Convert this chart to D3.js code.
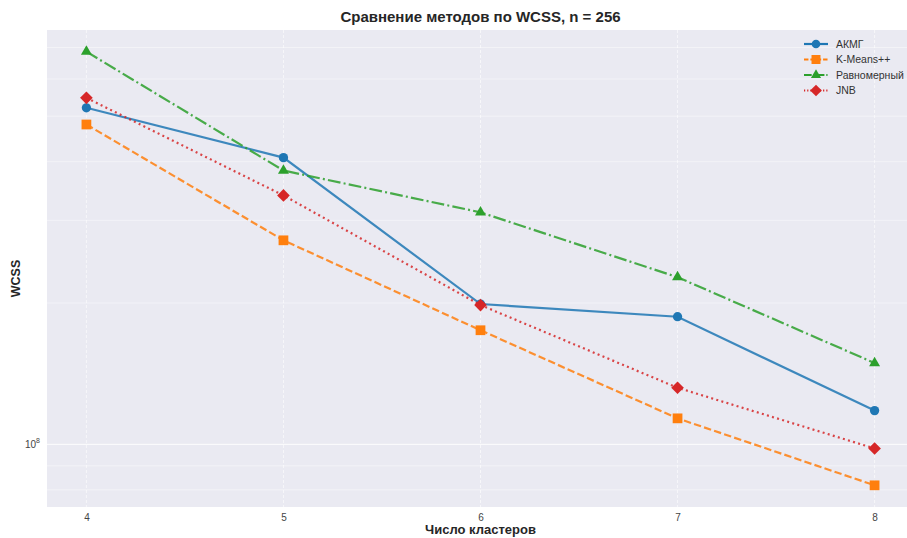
<!DOCTYPE html>
<html>
<head>
<meta charset="utf-8">
<script src="https://cdn.jsdelivr.net/npm/d3@7"></script>
<style>
	body { margin: 0; background: #fff; }
	svg { display: block; font-family: 'Liberation Sans', Arial, sans-serif; }
</style>
</head>
<body>
<svg class="chart" width="907" height="538"></svg>
<script>
/** DATA **/
let clusters = [4, 5, 6, 7, 8];
let akmg = [5.21e8, 4.08e8, 1.99e8, 1.87e8, 1.18e8];
let kmeans = [4.80e8, 2.72e8, 1.75e8, 1.136e8, 8.18e7];
let uniform = [6.86e8, 3.83e8, 3.12e8, 2.27e8, 1.49e8];
let jnb = [5.47e8, 3.39e8, 1.98e8, 1.32e8, 0.98e8];
let seriesNames = ['АКМГ', 'K-Means++', 'Равномерный', 'JNB'];

/** CONSTANTS **/
let margin = { top: 30, right: -7, bottom: 31, left: 47 };
let width = 907 - margin.left - margin.right;
let height = 538 - margin.top - margin.bottom;

// diamond = square turned 45 degrees (matplotlib 'D')
let symbolDiamondSquare = {
	draw: function(context, size) {
		let r = Math.sqrt(size) / Math.SQRT2;
		context.moveTo(0, -r);
		context.lineTo(r, 0);
		context.lineTo(0, r);
		context.lineTo(-r, 0);
		context.closePath();
	}
};

let series = [
	{ name: seriesNames[0], values: akmg, color: '#1f77b4', dash: null, marker: d3.symbolCircle, size: 68 },
	{ name: seriesNames[1], values: kmeans, color: '#ff7f0e', dash: '7.4,3.2', marker: d3.symbolSquare, size: 95 },
	{ name: seriesNames[2], values: uniform, color: '#2ca02c', dash: '12.8,3.2,2,3.2', marker: d3.symbolTriangle, size: 52 },
	{ name: seriesNames[3], values: jnb, color: '#d62728', dash: '2,3.3', marker: symbolDiamondSquare, size: 80 }
];

// log domain with 5% padding like matplotlib
let all = [].concat(akmg, kmeans, uniform, jnb);
let lo = Math.log10(d3.min(all)), hi = Math.log10(d3.max(all));
let pad = (hi - lo) * 0.05;

let x = d3.scaleLinear().domain([3.8, 8.2]).range([0, width]);
let y = d3.scaleLog().domain([Math.pow(10, lo - pad), Math.pow(10, hi + pad)]).range([height, 0]);

let svg = d3.select('.chart');
let g = svg.append('g').attr('transform', 'translate(' + margin.left + ',' + margin.top + ')');

// background
g.append('rect')
	.attr('width', width)
	.attr('height', height)
	.attr('fill', '#eaeaf2');

// minor + major horizontal grid
let yTicks = [];
for (let e = 7; e <= 8; e++) {
	for (let m = 1; m <= 9; m++) {
		let v = m * Math.pow(10, e);
		if (v >= y.domain()[0] && v <= y.domain()[1]) yTicks.push(v);
	}
}
g.selectAll('.hgrid')
	.data(yTicks)
	.enter()
	.append('line')
	.attr('x1', 0)
	.attr('x2', width)
	.attr('y1', d => y(d))
	.attr('y2', d => y(d))
	.attr('stroke', '#fff')
	.attr('stroke-opacity', d => d === 1e8 ? 0.9 : 0.55)
	.attr('stroke-width', d => d === 1e8 ? 1 : 0.8);

g.selectAll('.vgrid')
	.data(clusters)
	.enter()
	.append('line')
	.attr('x1', d => x(d))
	.attr('x2', d => x(d))
	.attr('y1', 0)
	.attr('y2', height)
	.attr('stroke', '#fff')
	.attr('stroke-opacity', 0.6)
	.attr('stroke-dasharray', '3,2');

// x axis
let xAxis = g.append('g')
	.attr('transform', 'translate(0,' + height + ')')
	.call(d3.axisBottom(x).tickValues(clusters).tickSize(0).tickPadding(7).tickFormat(d3.format('d')));
xAxis.select('.domain').remove();
xAxis.selectAll('text').attr('fill', '#444').style('font-size', '10px');

// y axis: only 10^8 labelled
let yl = g.append('text')
	.attr('x', -7)
	.attr('y', y(1e8) + 4)
	.attr('text-anchor', 'end')
	.attr('fill', '#444')
	.style('font-size', '10px');
yl.append('tspan').text('10');
yl.append('tspan').attr('dy', -5).style('font-size', '7px').text('8');

// lines
let line = d3.line()
	.x((d, i) => x(clusters[i]))
	.y(d => y(d));

series.forEach(function(s) {
	g.append('path')
		.datum(s.values)
		.attr('fill', 'none')
		.attr('stroke', s.color)
		.attr('stroke-width', 2.2)
		.attr('stroke-opacity', 0.85)
		.attr('stroke-dasharray', s.dash)
		.attr('d', line);
	g.selectAll(null)
		.data(s.values)
		.enter()
		.append('path')
		.attr('transform', (d, i) => 'translate(' + x(clusters[i]) + ',' + y(d) + ')')
		.attr('d', d3.symbol().type(s.marker).size(s.size))
		.attr('fill', s.color);
});

// legend
let legend = g.append('g')
	.attr('transform', 'translate(' + (width - 110) + ',14)');
let item = legend.selectAll('g')
	.data(series)
	.enter()
	.append('g')
	.attr('transform', (d, i) => 'translate(0,' + (i * 15.5) + ')');
item.append('line')
	.attr('x1', 0)
	.attr('x2', 24)
	.attr('stroke', d => d.color)
	.attr('stroke-width', 2.2)
	.attr('stroke-dasharray', d => d.dash ? d.dash.split(',').map(v => v * 0.6).join(',') : null);
item.append('path')
	.attr('transform', 'translate(12,0)')
	.attr('d', d => d3.symbol().type(d.marker).size(d.size * 0.85)())
	.attr('fill', d => d.color);
item.append('text')
	.attr('x', 32)
	.attr('dy', '0.35em')
	.attr('fill', '#333')
	.style('font-size', '10.5px')
	.text(d => d.name);

// title and labels
svg.append('text')
	.attr('x', margin.left + width / 2)
	.attr('y', 22)
	.attr('text-anchor', 'middle')
	.style('font-size', '15px')
	.style('font-weight', 'bold')
	.attr('fill', '#262626')
	.text('Сравнение методов по WCSS, n = 256');

svg.append('text')
	.attr('x', margin.left + width / 2)
	.attr('y', 534)
	.attr('text-anchor', 'middle')
	.style('font-size', '13px')
	.style('font-weight', 'bold')
	.attr('fill', '#262626')
	.text('Число кластеров');

svg.append('text')
	.attr('transform', 'translate(20,' + (margin.top + height / 2 + 10) + ') rotate(-90)')
	.attr('text-anchor', 'middle')
	.style('font-size', '12.5px')
	.style('font-weight', 'bold')
	.attr('fill', '#262626')
	.text('WCSS');
</script>
</body>
</html>
